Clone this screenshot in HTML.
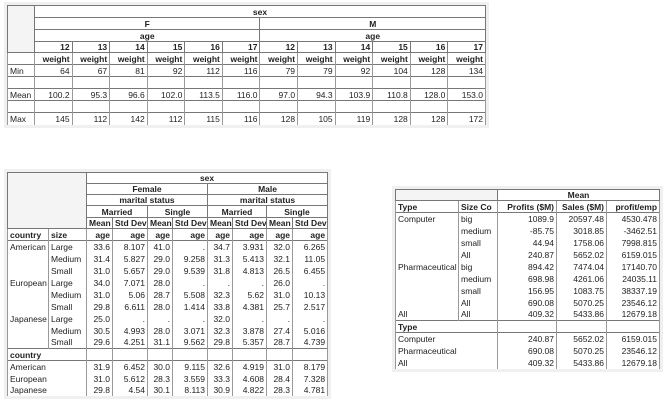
<!DOCTYPE html>
<html><head><meta charset="utf-8"><style>
body{margin:0;width:667px;height:402px;background:#fff;position:relative;overflow:hidden;font-family:"Liberation Sans",sans-serif;font-size:8.5px;color:#222}
.wrap{position:absolute;background:#f0f0f0;padding:3px}
table{border-collapse:collapse;table-layout:fixed;background:#fff}
td{padding:0 2px;white-space:nowrap;overflow:hidden;line-height:10px;text-align:right}
.h td{border:1px solid #777;text-align:center;font-weight:bold}
.b{font-weight:bold}
.l{text-align:left}
.st{background:#f4f4f4;border:1px solid #777}
.d td{border-right:1px solid #999;border-left:1px solid #999}
.bt td{border-top:1px solid #777}
</style></head><body>

<div class="wrap" style="left:4px;top:2px">
<table style="width:478px">
<colgroup><col style="width:27px"><col span="12" style="width:37.58px"></colgroup>
<tr class="h" style="height:12px"><td rowspan="4" class="st"></td><td colspan="12">sex</td></tr>
<tr class="h" style="height:12px"><td colspan="6">F</td><td colspan="6">M</td></tr>
<tr class="h" style="height:12px"><td colspan="6">age</td><td colspan="6">age</td></tr>
<tr class="h" style="height:10px"><td style="text-align:right">12</td><td style="text-align:right">13</td><td style="text-align:right">14</td><td style="text-align:right">15</td><td style="text-align:right">16</td><td style="text-align:right">17</td><td style="text-align:right">12</td><td style="text-align:right">13</td><td style="text-align:right">14</td><td style="text-align:right">15</td><td style="text-align:right">16</td><td style="text-align:right">17</td></tr>
<tr class="d b" style="height:12px"><td></td><td>weight</td><td>weight</td><td>weight</td><td>weight</td><td>weight</td><td>weight</td><td>weight</td><td>weight</td><td>weight</td><td>weight</td><td>weight</td><td>weight</td></tr>
<tr class="d bt" style="height:12px"><td class="l">Min</td><td>64</td><td>67</td><td>81</td><td>92</td><td>112</td><td>116</td><td>79</td><td>79</td><td>92</td><td>104</td><td>128</td><td>134</td></tr>
<tr class="d bt" style="height:12px"><td></td><td></td><td></td><td></td><td></td><td></td><td></td><td></td><td></td><td></td><td></td><td></td><td></td></tr>
<tr class="d bt" style="height:12px"><td class="l">Mean</td><td>100.2</td><td>95.3</td><td>96.6</td><td>102.0</td><td>113.5</td><td>116.0</td><td>97.0</td><td>94.3</td><td>103.9</td><td>110.8</td><td>128.0</td><td>153.0</td></tr>
<tr class="d bt" style="height:12px"><td></td><td></td><td></td><td></td><td></td><td></td><td></td><td></td><td></td><td></td><td></td><td></td><td></td></tr>
<tr class="d bt" style="height:12px"><td class="l">Max</td><td>145</td><td>112</td><td>142</td><td>112</td><td>115</td><td>116</td><td>128</td><td>105</td><td>119</td><td>128</td><td>128</td><td>172</td></tr>
</table></div>

<div class="wrap" style="left:4px;top:169px">
<table style="width:320px">
<colgroup><col style="width:41px"><col style="width:38px"><col style="width:26px"><col style="width:35px"><col style="width:25px"><col style="width:35px"><col style="width:25px"><col style="width:34px"><col style="width:26px"><col style="width:35px"></colgroup>
<tr class="h" style="height:11px"><td colspan="2" rowspan="5" class="st"></td><td colspan="8">sex</td></tr>
<tr class="h" style="height:11px"><td colspan="4">Female</td><td colspan="4">Male</td></tr>
<tr class="h" style="height:11px"><td colspan="4">marital status</td><td colspan="4">marital status</td></tr>
<tr class="h" style="height:12px"><td colspan="2">Married</td><td colspan="2">Single</td><td colspan="2">Married</td><td colspan="2">Single</td></tr>
<tr class="h" style="height:11px"><td>Mean</td><td>Std Dev</td><td>Mean</td><td>Std Dev</td><td>Mean</td><td>Std Dev</td><td>Mean</td><td>Std Dev</td></tr>
<tr class="d b" style="height:12px"><td class="l">country</td><td class="l">size</td><td>age</td><td>age</td><td>age</td><td>age</td><td>age</td><td>age</td><td>age</td><td>age</td></tr>
<tr class="d bt" style="height:12px"><td class="l">American</td><td class="l">Large</td><td>33.6</td><td>8.107</td><td>41.0</td><td>.</td><td>34.7</td><td>3.931</td><td>32.0</td><td>6.265</td></tr>
<tr class="d" style="height:12px"><td></td><td class="l">Medium</td><td>31.4</td><td>5.827</td><td>29.0</td><td>9.258</td><td>31.3</td><td>5.413</td><td>32.1</td><td>11.05</td></tr>
<tr class="d" style="height:12px"><td></td><td class="l">Small</td><td>31.0</td><td>5.657</td><td>29.0</td><td>9.539</td><td>31.8</td><td>4.813</td><td>26.5</td><td>6.455</td></tr>
<tr class="d" style="height:12px"><td class="l">European</td><td class="l">Large</td><td>34.0</td><td>7.071</td><td>28.0</td><td>.</td><td>.</td><td>.</td><td>26.0</td><td>.</td></tr>
<tr class="d" style="height:12px"><td></td><td class="l">Medium</td><td>31.0</td><td>5.06</td><td>28.7</td><td>5.508</td><td>32.3</td><td>5.62</td><td>31.0</td><td>10.13</td></tr>
<tr class="d" style="height:12px"><td></td><td class="l">Small</td><td>29.8</td><td>6.611</td><td>28.0</td><td>1.414</td><td>33.8</td><td>4.381</td><td>25.7</td><td>2.517</td></tr>
<tr class="d" style="height:12px"><td class="l">Japanese</td><td class="l">Large</td><td>25.0</td><td>.</td><td>.</td><td>.</td><td>32.0</td><td>.</td><td>.</td><td>.</td></tr>
<tr class="d" style="height:12px"><td></td><td class="l">Medium</td><td>30.5</td><td>4.993</td><td>28.0</td><td>3.071</td><td>32.3</td><td>3.878</td><td>27.4</td><td>5.016</td></tr>
<tr class="d" style="height:12px"><td></td><td class="l">Small</td><td>29.6</td><td>4.251</td><td>31.1</td><td>9.562</td><td>29.8</td><td>5.357</td><td>28.7</td><td>4.739</td></tr>
<tr class="d bt" style="height:12px"><td colspan="2" class="l b">country</td><td></td><td></td><td></td><td></td><td></td><td></td><td></td><td></td></tr>
<tr class="d bt" style="height:12px"><td colspan="2" class="l">American</td><td>31.9</td><td>6.452</td><td>30.0</td><td>9.115</td><td>32.6</td><td>4.919</td><td>31.0</td><td>8.179</td></tr>
<tr class="d" style="height:12px"><td colspan="2" class="l">European</td><td>31.0</td><td>5.612</td><td>28.3</td><td>3.559</td><td>33.3</td><td>4.608</td><td>28.4</td><td>7.328</td></tr>
<tr class="d" style="height:11px"><td colspan="2" class="l">Japanese</td><td>29.8</td><td>4.54</td><td>30.1</td><td>8.113</td><td>30.9</td><td>4.822</td><td>28.3</td><td>4.781</td></tr>
</table></div>

<div class="wrap" style="left:392px;top:186px">
<table style="width:264px">
<colgroup><col style="width:63px"><col style="width:39px"><col style="width:59px"><col style="width:50px"><col style="width:53px"></colgroup>
<tr class="h" style="height:11px"><td colspan="2" class="st"></td><td colspan="3">Mean</td></tr>
<tr class="d b" style="height:12px"><td class="l">Type</td><td class="l">Size Co</td><td>Profits ($M)</td><td>Sales ($M)</td><td>profit/emp</td></tr>
<tr class="d bt" style="height:12px"><td class="l">Computer</td><td class="l">big</td><td>1089.9</td><td>20597.48</td><td>4530.478</td></tr>
<tr class="d" style="height:12px"><td></td><td class="l">medium</td><td>-85.75</td><td>3018.85</td><td>-3462.51</td></tr>
<tr class="d" style="height:12px"><td></td><td class="l">small</td><td>44.94</td><td>1758.06</td><td>7998.815</td></tr>
<tr class="d" style="height:12px"><td></td><td class="l">All</td><td>240.87</td><td>5652.02</td><td>6159.015</td></tr>
<tr class="d" style="height:12px"><td class="l">Pharmaceutical</td><td class="l">big</td><td>894.42</td><td>7474.04</td><td>17140.70</td></tr>
<tr class="d" style="height:12px"><td></td><td class="l">medium</td><td>698.98</td><td>4261.06</td><td>24035.11</td></tr>
<tr class="d" style="height:12px"><td></td><td class="l">small</td><td>156.95</td><td>1083.75</td><td>38337.19</td></tr>
<tr class="d" style="height:12px"><td></td><td class="l">All</td><td>690.08</td><td>5070.25</td><td>23546.12</td></tr>
<tr class="d" style="height:12px"><td class="l">All</td><td class="l">All</td><td>409.32</td><td>5433.86</td><td>12679.18</td></tr>
<tr class="d bt" style="height:12px"><td colspan="2" class="l b">Type</td><td></td><td></td><td></td></tr>
<tr class="d bt" style="height:12px"><td colspan="2" class="l">Computer</td><td>240.87</td><td>5652.02</td><td>6159.015</td></tr>
<tr class="d" style="height:12px"><td colspan="2" class="l">Pharmaceutical</td><td>690.08</td><td>5070.25</td><td>23546.12</td></tr>
<tr class="d" style="height:12px"><td colspan="2" class="l">All</td><td>409.32</td><td>5433.86</td><td>12679.18</td></tr>
</table></div>
</body></html>
